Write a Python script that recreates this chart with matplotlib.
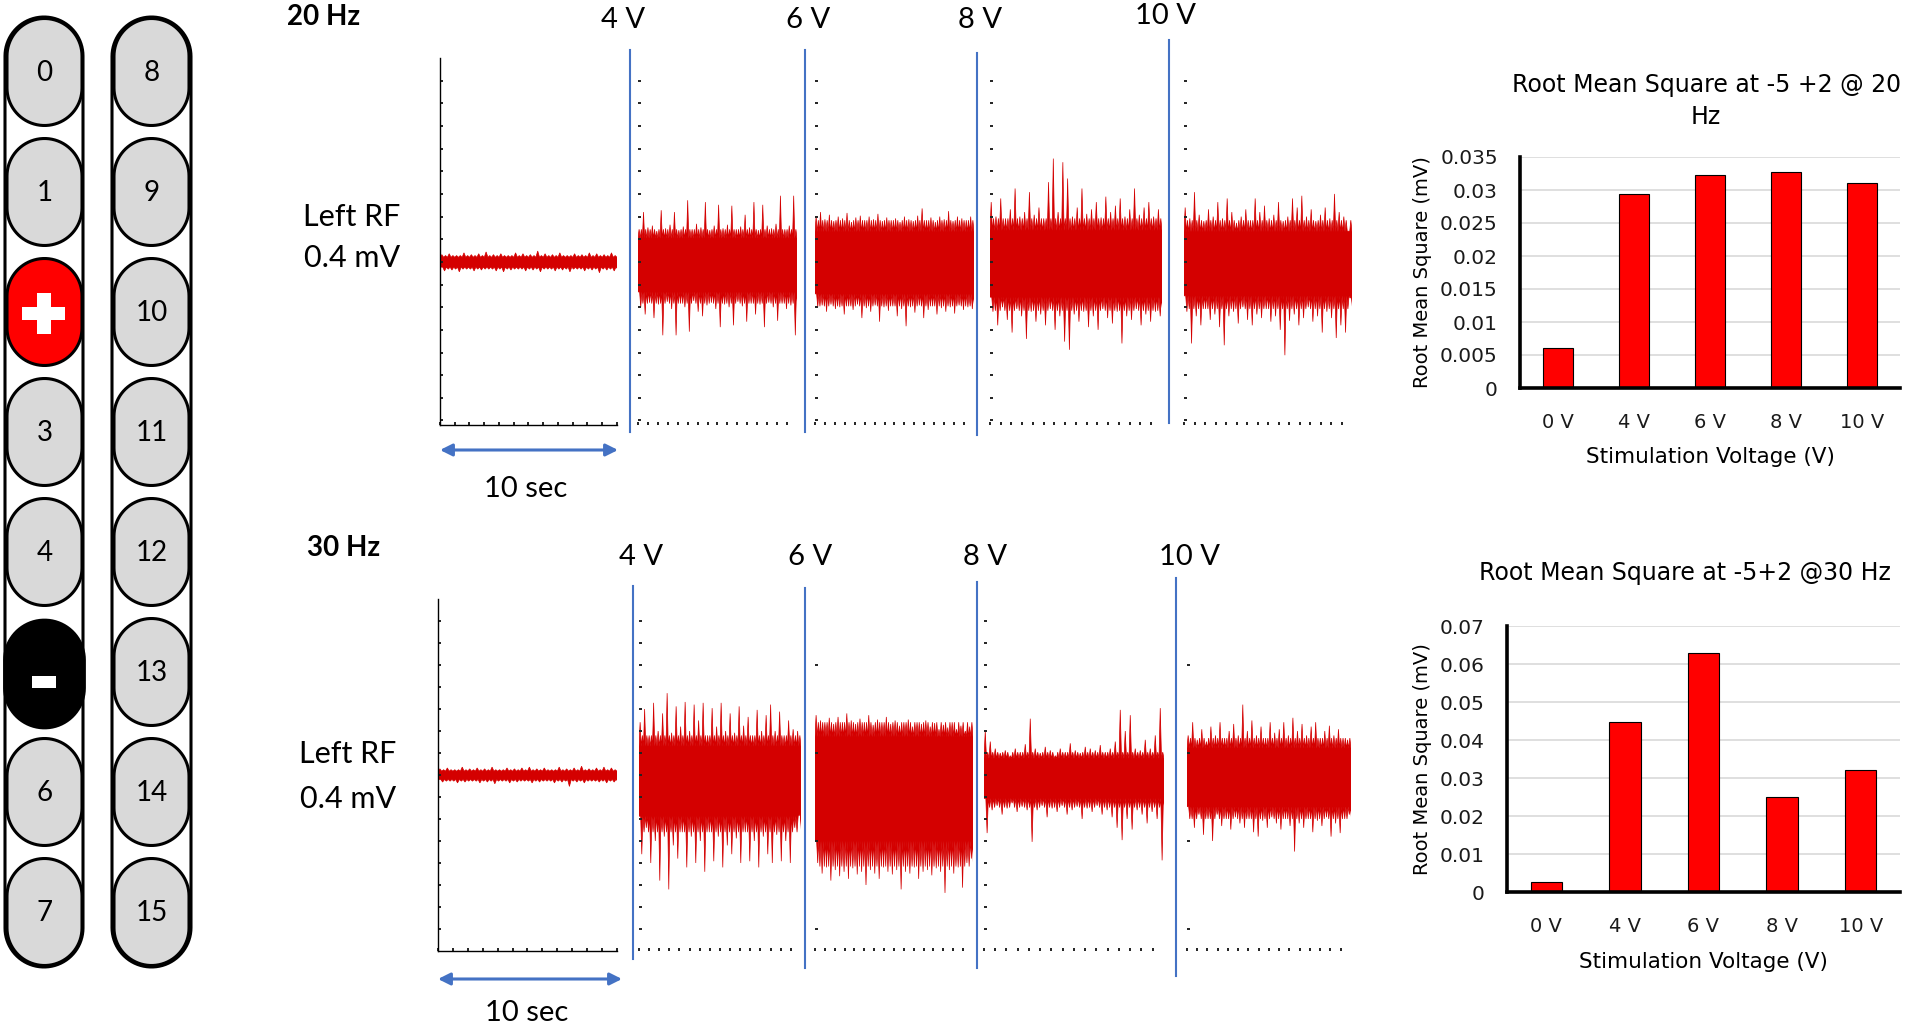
import matplotlib
matplotlib.use('Agg')
import matplotlib.pyplot as plt
import numpy as np
from matplotlib.patches import Polygon, Rectangle

W = 1908
H = 1030
trace_red = '#D40000'
line_blue = '#4472C4'
calibri_like = 'Lato'

electrodes_left = ['0', '1', '+', '3', '4', '-', '6', '7']
electrodes_right = ['8', '9', '10', '11', '12', '13', '14', '15']

bar_labels = ['0 V', '4 V', '6 V', '8 V', '10 V']
rms_20hz = [0.006, 0.0294, 0.0323, 0.0327, 0.031]
rms_30hz = [0.0026, 0.0447, 0.0629, 0.025, 0.0321]
stim_labels = ['4 V', '6 V', '8 V', '10 V']

# dense body of each trace (mV), order 0, 4, 6, 8, 10 V
hz20_body_hi = [0.007, 0.036, 0.046, 0.048, 0.046]
hz20_body_lo = [-0.008, -0.046, -0.049, -0.054, -0.052]
hz30_body_hi = [0.006, 0.045, 0.06, 0.026, 0.042]
hz30_body_lo = [-0.007, -0.065, -0.104, -0.037, -0.05]

# trace excursions in mV (upper peaks / lower peaks), 20 Hz
hz20_0v_hi = [0.008, 0.009, 0.007, 0.01, 0.008, 0.009, 0.011, 0.008, 0.009, 0.007, 0.01, 0.009,
              0.008, 0.012, 0.009, 0.008, 0.01, 0.007, 0.009, 0.008, 0.01, 0.009, 0.008, 0.01]
hz20_0v_lo = [-0.01, -0.009, -0.011, -0.008, -0.01, -0.009, -0.008, -0.01, -0.011, -0.009, -0.008, -0.01,
              -0.009, -0.011, -0.008, -0.01, -0.009, -0.011, -0.008, -0.01, -0.009, -0.012, -0.009, -0.01]
hz20_4v_hi = [0.036, 0.055, 0.038, 0.04, 0.034, 0.057, 0.037, 0.041, 0.055, 0.035, 0.039, 0.068,
              0.036, 0.042, 0.038, 0.066, 0.035, 0.04, 0.063, 0.037, 0.041, 0.062, 0.036, 0.039,
              0.052, 0.038, 0.066, 0.035, 0.063, 0.04, 0.037, 0.042, 0.073, 0.036, 0.04, 0.073]
hz20_4v_lo = [-0.05, -0.058, -0.045, -0.062, -0.047, -0.081, -0.044, -0.052, -0.081, -0.046, -0.05, -0.077,
              -0.043, -0.055, -0.06, -0.048, -0.045, -0.052, -0.072, -0.047, -0.05, -0.07, -0.044, -0.049,
              -0.066, -0.046, -0.058, -0.047, -0.072, -0.045, -0.05, -0.065, -0.046, -0.052, -0.048, -0.081]
hz20_6v_hi = [0.05, 0.055, 0.047, 0.052, 0.045, 0.05, 0.048, 0.054, 0.044, 0.049, 0.051, 0.046,
              0.05, 0.047, 0.053, 0.045, 0.049, 0.046, 0.048, 0.044, 0.05, 0.047, 0.045, 0.051,
              0.059, 0.046, 0.049, 0.044, 0.05, 0.047, 0.056, 0.045, 0.05, 0.048, 0.046, 0.05]
hz20_6v_lo = [-0.05, -0.048, -0.055, -0.047, -0.052, -0.05, -0.058, -0.049, -0.053, -0.047, -0.062, -0.051,
              -0.055, -0.048, -0.066, -0.05, -0.054, -0.049, -0.06, -0.052, -0.071, -0.05, -0.056, -0.048,
              -0.062, -0.053, -0.049, -0.058, -0.051, -0.055, -0.05, -0.057, -0.048, -0.053, -0.05, -0.052]
hz20_8v_hi = [0.066, 0.05, 0.07, 0.048, 0.058, 0.081, 0.05, 0.055, 0.077, 0.052, 0.06, 0.048,
              0.088, 0.114, 0.055, 0.11, 0.092, 0.05, 0.06, 0.081, 0.053, 0.058, 0.066, 0.049,
              0.072, 0.055, 0.062, 0.07, 0.05, 0.058, 0.081, 0.052, 0.06, 0.066, 0.05, 0.058]
hz20_8v_lo = [-0.055, -0.07, -0.05, -0.064, -0.078, -0.052, -0.06, -0.085, -0.055, -0.066, -0.058, -0.07,
              -0.052, -0.075, -0.06, -0.088, -0.097, -0.058, -0.066, -0.055, -0.072, -0.06, -0.075, -0.052,
              -0.062, -0.068, -0.055, -0.09, -0.06, -0.064, -0.052, -0.07, -0.058, -0.066, -0.055, -0.06]
hz20_10v_hi = [0.06, 0.048, 0.077, 0.052, 0.045, 0.058, 0.05, 0.066, 0.048, 0.07, 0.055, 0.043,
               0.05, 0.058, 0.046, 0.07, 0.055, 0.062, 0.048, 0.052, 0.066, 0.045, 0.05, 0.07,
               0.06, 0.073, 0.05, 0.058, 0.045, 0.052, 0.06, 0.048, 0.075, 0.055, 0.05, 0.034]
hz20_10v_lo = [-0.055, -0.09, -0.06, -0.07, -0.052, -0.064, -0.058, -0.072, -0.092, -0.06, -0.055, -0.068,
               -0.05, -0.064, -0.07, -0.058, -0.062, -0.052, -0.066, -0.06, -0.075, -0.103, -0.065, -0.058,
               -0.07, -0.062, -0.05, -0.066, -0.06, -0.078, -0.055, -0.062, -0.084, -0.07, -0.078, -0.04]

# 30 Hz
hz30_0v_hi = [0.007, 0.008, 0.006, 0.009, 0.007, 0.008, 0.007, 0.009, 0.006, 0.008, 0.007, 0.008,
              0.009, 0.007, 0.008, 0.006, 0.009, 0.007, 0.008, 0.01, 0.007, 0.008, 0.009, 0.008]
hz30_0v_lo = [-0.008, -0.007, -0.009, -0.008, -0.007, -0.009, -0.008, -0.01, -0.007, -0.009, -0.008, -0.007,
              -0.009, -0.008, -0.007, -0.009, -0.008, -0.013, -0.008, -0.009, -0.007, -0.008, -0.009, -0.008]
hz30_4v_hi = [0.06, 0.075, 0.045, 0.082, 0.05, 0.07, 0.093, 0.048, 0.078, 0.055, 0.083, 0.05,
              0.08, 0.062, 0.082, 0.045, 0.076, 0.055, 0.082, 0.05, 0.07, 0.048, 0.078, 0.056,
              0.066, 0.045, 0.074, 0.05, 0.068, 0.08, 0.05, 0.072, 0.045, 0.062, 0.052, 0.05]
hz30_4v_lo = [-0.09, -0.06, -0.1, -0.075, -0.12, -0.07, -0.13, -0.08, -0.095, -0.065, -0.105, -0.07,
              -0.1, -0.075, -0.11, -0.065, -0.098, -0.07, -0.105, -0.08, -0.09, -0.072, -0.1, -0.065,
              -0.098, -0.075, -0.105, -0.07, -0.09, -0.1, -0.068, -0.098, -0.075, -0.1, -0.06, -0.045]
hz30_6v_hi = [0.068, 0.062, 0.06, 0.065, 0.058, 0.066, 0.06, 0.07, 0.062, 0.058, 0.064, 0.06,
              0.068, 0.057, 0.063, 0.06, 0.066, 0.058, 0.062, 0.056, 0.06, 0.063, 0.055, 0.06,
              0.058, 0.062, 0.055, 0.059, 0.052, 0.057, 0.054, 0.06, 0.052, 0.056, 0.05, 0.055]
hz30_6v_lo = [-0.1, -0.112, -0.105, -0.12, -0.108, -0.115, -0.11, -0.118, -0.106, -0.113, -0.11, -0.125,
              -0.108, -0.112, -0.118, -0.105, -0.11, -0.113, -0.108, -0.13, -0.11, -0.112, -0.105, -0.118,
              -0.11, -0.108, -0.114, -0.106, -0.11, -0.134, -0.108, -0.112, -0.105, -0.128, -0.1, -0.095]
hz30_8v_hi = [0.05, 0.038, 0.03, 0.025, 0.028, 0.022, 0.03, 0.026, 0.035, 0.064, 0.03, 0.025,
              0.032, 0.028, 0.022, 0.03, 0.026, 0.036, 0.028, 0.025, 0.032, 0.03, 0.028, 0.034,
              0.026, 0.03, 0.038, 0.074, 0.05, 0.068, 0.03, 0.028, 0.04, 0.03, 0.045, 0.076]
hz30_8v_lo = [-0.066, -0.04, -0.035, -0.045, -0.038, -0.032, -0.042, -0.036, -0.04, -0.076, -0.04, -0.035,
              -0.048, -0.038, -0.042, -0.035, -0.045, -0.04, -0.036, -0.05, -0.038, -0.042, -0.035, -0.045,
              -0.04, -0.048, -0.06, -0.074, -0.05, -0.062, -0.04, -0.045, -0.055, -0.042, -0.05, -0.097]
hz30_10v_hi = [0.045, 0.06, 0.04, 0.052, 0.038, 0.055, 0.045, 0.06, 0.042, 0.05, 0.058, 0.045,
               0.08, 0.05, 0.062, 0.045, 0.055, 0.042, 0.06, 0.048, 0.052, 0.06, 0.045, 0.065,
               0.05, 0.058, 0.045, 0.055, 0.06, 0.042, 0.05, 0.056, 0.045, 0.052, 0.042, 0.04]
hz30_10v_lo = [-0.05, -0.06, -0.045, -0.068, -0.05, -0.075, -0.045, -0.058, -0.05, -0.062, -0.048, -0.055,
               -0.06, -0.05, -0.065, -0.07, -0.052, -0.06, -0.048, -0.055, -0.062, -0.05, -0.058, -0.087,
               -0.055, -0.06, -0.05, -0.065, -0.052, -0.058, -0.048, -0.07, -0.055, -0.066, -0.05, -0.045]


def px_axes(fig, left, top, right, bottom):
    return fig.add_axes([left / W, 1 - bottom / H, (right - left) / W, (bottom - top) / H])


def stadium(cx, cy, w, h):
    # pill shape in pixel coords (y grows downwards)
    r = w / 2
    th = np.linspace(0, np.pi, 40)
    top = np.column_stack([cx + r * np.cos(th), cy - h / 2 + r - r * np.sin(th)])
    bot = np.column_stack([cx - r * np.cos(th), cy + h / 2 - r + r * np.sin(th)])
    return np.vstack([top, bot])


def draw_electrode(ax, cx, cy, label):
    if label == '-':
        ax.add_patch(Polygon(stadium(cx, cy + 2, 80, 108), fc='black', ec='black', lw=2, zorder=3))
        ax.add_patch(Rectangle((cx - 12, cy + 4), 24, 12, fc='white', ec='none', zorder=4))
        return
    face = '#FF0000' if label == '+' else '#D9D9D9'
    ax.add_patch(Polygon(stadium(cx, cy, 75, 107), fc=face, ec='black', lw=2.2, zorder=3))
    if label == '+':
        ax.add_patch(Rectangle((cx - 22, cy - 5), 43, 13, fc='white', ec='none', zorder=4))
        ax.add_patch(Rectangle((cx - 7, cy - 19), 14, 41, fc='white', ec='none', zorder=4))
    else:
        ax.text(cx, cy + 1, label, fontsize=20, family=calibri_like, ha='center', va='center', zorder=5)


def trace_outline(hi, lo, body_hi, body_lo):
    # solid core, jagged edge at body level, one tooth per recorded peak
    n = len(hi)
    step = 10 / n
    t = np.arange(n) * step
    base_hi, base_lo = 0.72 * body_hi, 0.72 * body_lo
    tu = np.column_stack([t, t + 0.25 * step, t + 0.5 * step, t + 0.75 * step]).ravel()
    yu = np.column_stack([np.full(n, base_hi), hi, np.full(n, base_hi), np.full(n, body_hi)]).ravel()
    tl = tu + 0.37 * step
    yl = np.column_stack([np.full(n, base_lo), lo, np.full(n, base_lo), np.full(n, body_lo)]).ravel()
    xs = np.concatenate([[0], tu, [10, 10], tl[::-1], [0]])
    ys = np.concatenate([[base_hi], yu, [base_hi, base_lo], yl[::-1], [base_lo]])
    return xs, ys


def draw_trace_panel(fig, box, ylim, hi, lo, body_hi, body_lo, baseline=False, ystep=0.025):
    ax = px_axes(fig, *box)
    ax.patch.set_visible(False)
    xs, ys = trace_outline(hi, lo, body_hi, body_lo)
    ax.fill(xs, ys, color=trace_red, lw=0.5, ec=trace_red)
    ax.set_xlim(0, 10)
    ax.set_ylim(*ylim)
    for side in ['top', 'right']:
        ax.spines[side].set_visible(False)
    if baseline:
        ax.spines['left'].set_linewidth(1.0)
        ax.spines['bottom'].set_linewidth(1.0)
        ax.set_xticks(np.linspace(0, 10, 13))
    else:
        ax.spines['left'].set_visible(False)
        ax.spines['bottom'].set_visible(False)
        ax.set_xticks(np.arange(0, 9.4, 0.625))
    ax.set_yticks(np.arange(-0.175, ylim[1] - 0.01, ystep))
    ax.tick_params(direction='in', length=2.5, width=1.4, color='#222222', labelleft=False, labelbottom=False)
    return ax


def draw_bar_chart(fig, box, values, ymax, ystep, tick_text, title, title_xy, xlabel_y, ylabel_x):
    ax = px_axes(fig, *box)
    x = np.arange(len(values))
    ax.set_axisbelow(True)
    ax.yaxis.grid(True, color='#D9D9D9', lw=1.2)
    ax.bar(x, values, width=0.4, color='#FF0000', edgecolor='black', lw=0.8)
    ax.set_xlim(-0.5, len(values) - 0.5)
    ax.set_ylim(0, ymax)
    ax.set_yticks(np.arange(0, ymax + ystep / 2, ystep))
    ax.set_yticklabels(tick_text)
    ax.set_xticks(x)
    ax.set_xticklabels(bar_labels)
    for side in ['top', 'right']:
        ax.spines[side].set_visible(False)
    for side in ['left', 'bottom']:
        ax.spines[side].set_linewidth(2.6)
    ax.tick_params(length=0, labelsize=14.5, labelcolor='#1a1a1a')
    ax.tick_params(axis='y', pad=16)
    ax.tick_params(axis='x', pad=18, labelsize=14)
    ax.set_xlabel('Stimulation Voltage (V)', fontsize=15.5)
    ax.set_ylabel('Root Mean Square (mV)', fontsize=14)
    ax.xaxis.set_label_coords(0.5, xlabel_y)
    ax.xaxis.label.set_va('center')
    ax.yaxis.set_label_coords(ylabel_x, 0.5)
    ax.yaxis.label.set_va('center')
    ax.text(title_xy[0], title_xy[1], title, transform=ax.transAxes, fontsize=17,
            ha='center', va='center', linespacing=1.45)
    return ax


fig = plt.figure(figsize=(W / 100, H / 100), dpi=100)
bg = fig.add_axes([0, 0, 1, 1])
bg.set_xlim(0, W)
bg.set_ylim(H, 0)
bg.axis('off')

# electrode array
for cx, w in [(44, 78), (151.5, 79)]:
    bg.add_patch(Polygon(stadium(cx, 492, w, 950), fc='white', ec='black', lw=2.2, zorder=2))
for i, (a, b) in enumerate(zip(electrodes_left, electrodes_right)):
    cy = 72 + 120 * i
    draw_electrode(bg, 44.5, cy, a)
    draw_electrode(bg, 151.5, cy, b)

# row headings and scale text
bg.text(287, 17, '20 Hz', fontsize=20, weight='bold', family=calibri_like, va='center', ha='left')
bg.text(307, 548, '30 Hz', fontsize=20, weight='bold', family=calibri_like, va='center', ha='left')
for cx, y1, y2 in [(352, 217, 258), (348, 754, 799)]:
    bg.text(cx, y1, 'Left RF', fontsize=22, family=calibri_like, ha='center', va='center')
    bg.text(cx, y2, '0.4 mV', fontsize=22, family=calibri_like, ha='center', va='center')

# stimulation markers
top_markers = [(630, 50, 432, 623, 20), (805, 50, 432, 808, 20), (977, 53, 435, 980, 20), (1169, 40, 423, 1166, 16)]
bot_markers = [(633, 586, 959, 641, 557), (805, 588, 968, 810, 557), (977, 582, 968, 985, 557),
               (1176, 578, 976, 1190, 557)]
for markers in [top_markers, bot_markers]:
    for lab, (lx, y0, y1, tx, ty) in zip(stim_labels, markers):
        bg.plot([lx, lx], [y0, y1], color=line_blue, lw=1.5)
        bg.text(tx, ty, lab, fontsize=21, family=calibri_like, ha='center', va='center')

# 10 sec arrows
for x0, x1, ya, yt in [(440, 618, 450, 489), (438, 622, 979, 1013)]:
    bg.annotate('', xy=(x1, ya), xytext=(x0, ya),
                arrowprops=dict(arrowstyle='<|-|>', color=line_blue, lw=2.2, mutation_scale=18,
                                shrinkA=0, shrinkB=0))
    bg.text((x0 + x1) / 2 - 3, yt, '10 sec', fontsize=21, family=calibri_like, ha='center', va='center')

# traces 20 Hz
ylim20 = (-0.18, 0.225)
boxes20 = [(440, 58, 617, 425), (638, 58, 797, 425), (815, 58, 974, 425), (990, 58, 1162, 425),
           (1184, 58, 1352, 425)]
traces20 = [(hz20_0v_hi, hz20_0v_lo), (hz20_4v_hi, hz20_4v_lo), (hz20_6v_hi, hz20_6v_lo),
            (hz20_8v_hi, hz20_8v_lo), (hz20_10v_hi, hz20_10v_lo)]
for k, (box, (hi, lo)) in enumerate(zip(boxes20, traces20)):
    draw_trace_panel(fig, box, ylim20, hi, lo, hz20_body_hi[k], hz20_body_lo[k], baseline=(k == 0))

# traces 30 Hz
ylim30 = (-0.2, 0.2)
boxes30 = [(438, 599, 617, 951), (639, 599, 801, 951), (815, 599, 973, 951), (984, 599, 1164, 951),
           (1187, 599, 1351, 951)]
traces30 = [(hz30_0v_hi, hz30_0v_lo), (hz30_4v_hi, hz30_4v_lo), (hz30_6v_hi, hz30_6v_lo),
            (hz30_8v_hi, hz30_8v_lo), (hz30_10v_hi, hz30_10v_lo)]
tick_steps30 = [0.025, 0.025, 0.1, 0.025, 0.1]
for k, (box, (hi, lo)) in enumerate(zip(boxes30, traces30)):
    draw_trace_panel(fig, box, ylim30, hi, lo, hz30_body_hi[k], hz30_body_lo[k], baseline=(k == 0),
                     ystep=tick_steps30[k])

# RMS bar charts
draw_bar_chart(fig, (1520, 157, 1900, 388), rms_20hz, 0.035, 0.005,
               ['0', '0.005', '0.01', '0.015', '0.02', '0.025', '0.03', '0.035'],
               'Root Mean Square at -5 +2 @ 20\nHz', (0.49, (388 - 101) / 231),
               -69 / 231, -97 / 380)
draw_bar_chart(fig, (1507, 626, 1900, 892), rms_30hz, 0.07, 0.01,
               ['0', '0.01', '0.02', '0.03', '0.04', '0.05', '0.06', '0.07'],
               'Root Mean Square at -5+2 @30 Hz', ((1685 - 1507) / 393, (892 - 573) / 266),
               -70 / 266, -84 / 393)

fig.savefig('out.png', dpi=100)
